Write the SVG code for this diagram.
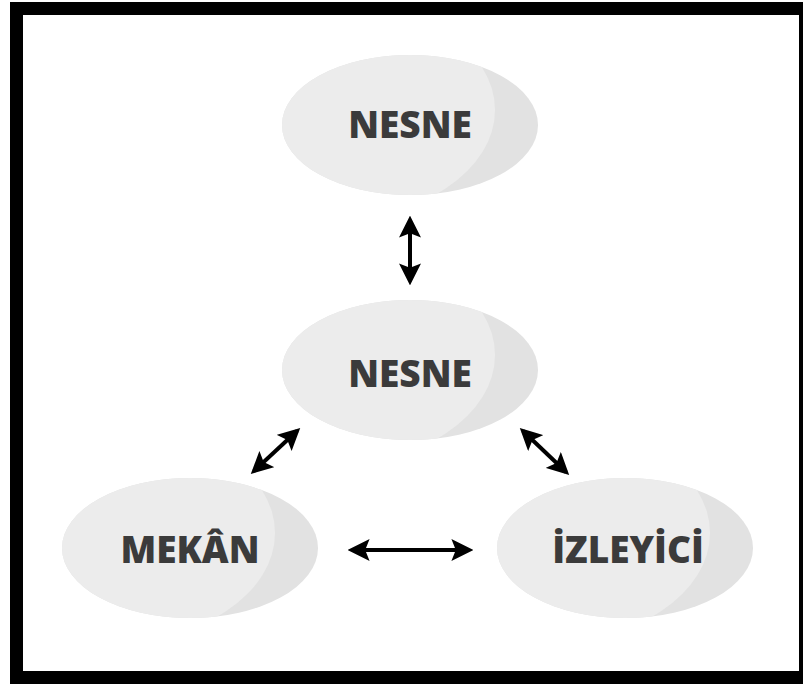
<svg xmlns="http://www.w3.org/2000/svg" width="803" height="686" viewBox="0 0 803 686">
<defs>
<style>
.lbl{font-family:"Open Sans","Liberation Sans",sans-serif;font-weight:800;font-size:37px;fill:#3b3b3b;text-anchor:middle}
.base{fill:#e2e2e2}
.hi{fill:#ececec}
.con{stroke:#000;stroke-width:4;fill:none;marker-start:url(#ah);marker-end:url(#ah)}
</style>
<marker id="ah" viewBox="0 0 10 10" refX="8" refY="5" markerWidth="5.5" markerHeight="5.5" orient="auto-start-reverse" markerUnits="strokeWidth">
<path d="M0,0 L10,5 L0,10 L2,5 Z" fill="#000"/>
</marker>
<clipPath id="c1"><ellipse cx="410" cy="125" rx="128" ry="70"/></clipPath>
<clipPath id="c2"><ellipse cx="410" cy="370" rx="128" ry="70"/></clipPath>
<clipPath id="c3"><ellipse cx="190" cy="548" rx="128" ry="70"/></clipPath>
<clipPath id="c4"><ellipse cx="625" cy="548" rx="128" ry="70"/></clipPath>
</defs>
<rect x="10" y="2" width="800" height="682" fill="#000"/>
<rect x="23" y="15" width="776" height="656" fill="#fff"/>
<g id="nesne-top">
<ellipse class="base" cx="410" cy="125" rx="128" ry="70"/>
<ellipse class="hi" cx="330" cy="110" rx="165" ry="110" clip-path="url(#c1)"/>
<text class="lbl" x="410" y="138">NESNE</text>
</g>
<g id="nesne-mid">
<ellipse class="base" cx="410" cy="370" rx="128" ry="70"/>
<ellipse class="hi" cx="330" cy="355" rx="165" ry="110" clip-path="url(#c2)"/>
<text class="lbl" x="410" y="387">NESNE</text>
</g>
<g id="mekan">
<ellipse class="base" cx="190" cy="548" rx="128" ry="70"/>
<ellipse class="hi" cx="110" cy="533" rx="165" ry="110" clip-path="url(#c3)"/>
<text class="lbl" x="190" y="563">MEKÂN</text>
</g>
<g id="izleyici">
<ellipse class="base" cx="625" cy="548" rx="128" ry="70"/>
<ellipse class="hi" cx="545" cy="533" rx="165" ry="110" clip-path="url(#c4)"/>
<text class="lbl" x="628" y="563">İZLEYİCİ</text>
</g>
<g id="connectors">
<line class="con" x1="410" y1="220" x2="410" y2="281"/>
<line class="con" x1="297" y1="431" x2="254" y2="471"/>
<line class="con" x1="523" y1="431" x2="566" y2="472"/>
<line class="con" x1="352" y1="550" x2="469" y2="550"/>
</g>
</svg>
